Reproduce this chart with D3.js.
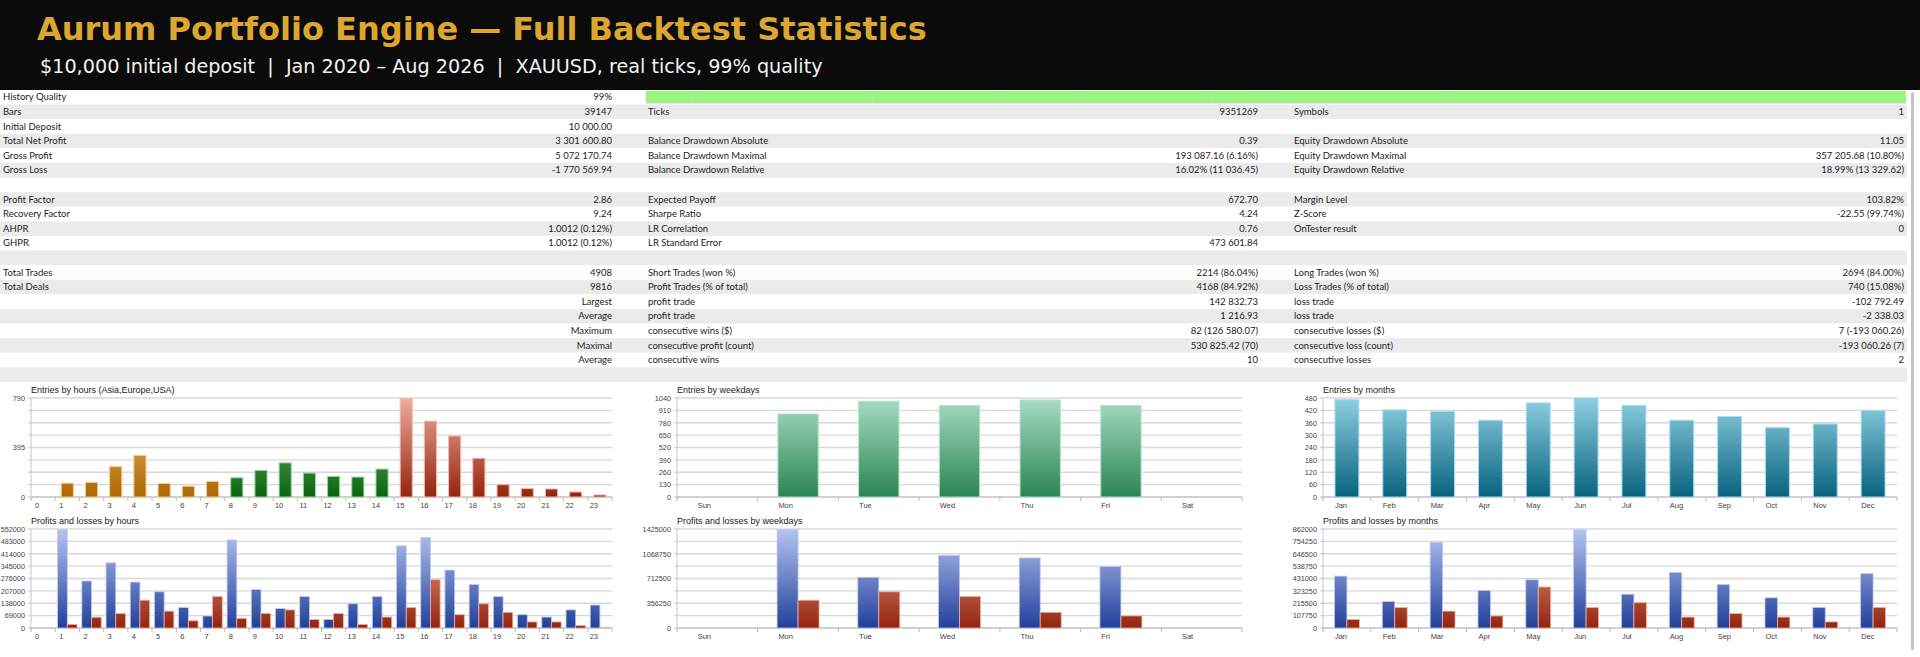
<!DOCTYPE html>
<html>
<head>
<meta charset="utf-8">
<script src="https://cdn.jsdelivr.net/npm/d3@7"></script>
<style>
  html, body { margin: 0; padding: 0; background: #fff; }
  svg { display: block; }
</style>
</head>
<body>
<svg id="report" width="1920" height="657"></svg>
<script>
// ---------- report text ----------
const titleText = 'Aurum Portfolio Engine \u2014 Full Backtest Statistics';
const subtitleText = '$10,000 initial deposit  |  Jan 2020 \u2013 Aug 2026  |  XAUUSD, real ticks, 99% quality';

const col1Labels = ['History Quality', 'Bars', 'Initial Deposit', 'Total Net Profit', 'Gross Profit', 'Gross Loss', '',
  'Profit Factor', 'Recovery Factor', 'AHPR', 'GHPR', '', 'Total Trades', 'Total Deals', '', '', '', '', '', ''];
const col1Values = ['99%', '39147', '10 000.00', '3 301 600.80', '5 072 170.74', '-1 770 569.94', '',
  '2.86', '9.24', '1.0012 (0.12%)', '1.0012 (0.12%)', '', '4908', '9816', 'Largest', 'Average', 'Maximum', 'Maximal', 'Average', ''];
const col2Labels = ['', 'Ticks', '', 'Balance Drawdown Absolute', 'Balance Drawdown Maximal', 'Balance Drawdown Relative', '',
  'Expected Payoff', 'Sharpe Ratio', 'LR Correlation', 'LR Standard Error', '', 'Short Trades (won %)', 'Profit Trades (% of total)',
  'profit trade', 'profit trade', 'consecutive wins ($)', 'consecutive profit (count)', 'consecutive wins', ''];
const col2Values = ['', '9351269', '', '0.39', '193 087.16 (6.16%)', '16.02% (11 036.45)', '',
  '672.70', '4.24', '0.76', '473 601.84', '', '2214 (86.04%)', '4168 (84.92%)',
  '142 832.73', '1 216.93', '82 (126 580.07)', '530 825.42 (70)', '10', ''];
const col3Labels = ['', 'Symbols', '', 'Equity Drawdown Absolute', 'Equity Drawdown Maximal', 'Equity Drawdown Relative', '',
  'Margin Level', 'Z-Score', 'OnTester result', '', '', 'Long Trades (won %)', 'Loss Trades (% of total)',
  'loss trade', 'loss trade', 'consecutive losses ($)', 'consecutive loss (count)', 'consecutive losses', ''];
const col3Values = ['', '1', '', '11.05', '357 205.68 (10.80%)', '18.99% (13 329.62)', '',
  '103.82%', '-22.55 (99.74%)', '0', '', '', '2694 (84.00%)', '740 (15.08%)',
  '-102 792.49', '-2 338.03', '7 (-193 060.26)', '-193 060.26 (7)', '2', ''];

// ---------- chart data ----------
const hours = d3.range(24).map(String);
const hourSessions = ['asia','asia','asia','asia','asia','asia','asia','asia',
  'europe','europe','europe','europe','europe','europe','europe',
  'usa','usa','usa','usa','usa','usa','usa','usa','usa'];
const hourEntries = [0, 110, 116, 242, 331, 108, 86, 124, 153, 212, 272, 191, 164, 159, 223, 785, 605, 487, 309, 99, 67, 64, 40, 16];
const hourProfit = [0, 548000, 262000, 363000, 256000, 202000, 114000, 67000, 491000, 215000, 108000, 175000, 47000, 135000,
  175000, 458000, 505000, 323000, 242000, 175000, 74000, 61000, 101000, 128000];
const hourLoss = [0, 20000, 60000, 81000, 155000, 94000, 40000, 175000, 54000, 81000, 101000, 47000, 81000, 20000,
  61000, 114000, 269000, 74000, 135000, 87000, 34000, 34000, 13000, 4000];

const weekdays = ['Sun', 'Mon', 'Tue', 'Wed', 'Thu', 'Fri', 'Sat'];
const weekdayEntries = [0, 872, 1006, 961, 1019, 961, 0];
const weekdayProfit = [0, 1420000, 730000, 1043000, 1008000, 886000, 0];
const weekdayLoss = [0, 400000, 521000, 452000, 226000, 174000, 0];

const months = ['Jan', 'Feb', 'Mar', 'Apr', 'May', 'Jun', 'Jul', 'Aug', 'Sep', 'Oct', 'Nov', 'Dec'];
const monthEntries = [472, 422, 415, 372, 456, 480, 444, 372, 390, 336, 354, 420];
const monthProfit = [452000, 231000, 746000, 326000, 420000, 855000, 294000, 484000, 378000, 263000, 179000, 473000];
const monthLoss = [74000, 179000, 147000, 105000, 357000, 179000, 221000, 95000, 126000, 95000, 53000, 179000];

const hourEntryTicks = [0, 395, 790];
const weekdayEntryTicks = [0, 130, 260, 390, 520, 650, 780, 910, 1040];
const monthEntryTicks = [0, 60, 120, 180, 240, 300, 360, 420, 480];
const hourPLTicks = [0, 69000, 138000, 207000, 276000, 345000, 414000, 483000, 552000];
const weekdayPLTicks = [0, 356250, 712500, 1068750, 1425000];
const monthPLTicks = [0, 107750, 215500, 323250, 431000, 538750, 646500, 754250, 862000];

// ---------- layout ----------
const W = 1920, H = 657;
const headerH = 90;
const rowH = 14.6, tableTop = 90, tableRight = 1907;
const chartFont = 'Liberation Sans, Arial, sans-serif';
const rowsY = {
  entries: { top: 398, bottom: 497, titleY: 393, labelY: 508 },
  pl:      { top: 529, bottom: 628, titleY: 524, labelY: 639 }
};
const colsX = [{ x0: 31, x1: 612 }, { x0: 677, x1: 1242 }, { x0: 1323, x1: 1897 }];

const svg = d3.select('#report');

// gradients (user space so short bars get the dark end)
const defs = svg.append('defs');
function gradient(id, row, top, bottom) {
  const lg = defs.append('linearGradient').attr('id', id)
    .attr('gradientUnits', 'userSpaceOnUse')
    .attr('x1', 0).attr('x2', 0).attr('y1', row.top).attr('y2', row.bottom);
  lg.append('stop').attr('offset', 0).attr('stop-color', top);
  lg.append('stop').attr('offset', 1).attr('stop-color', bottom);
}
gradient('g-asia', rowsY.entries, '#EEC274', '#AE6600');
gradient('g-europe', rowsY.entries, '#80C484', '#0A640E');
gradient('g-usa', rowsY.entries, '#EEAC9C', '#94240E');
gradient('g-week', rowsY.entries, '#A8DDC3', '#2A8452');
gradient('g-month', rowsY.entries, '#8ED0E2', '#08627F');
gradient('g-profit', rowsY.pl, '#B4C4F2', '#22409A');
gradient('g-loss', rowsY.pl, '#EEAC9C', '#94240E');
const strokes = { asia: '#F6CA85', europe: '#98D89A', usa: '#F3B8AA', week: '#B3E5CC', month: '#A5DCEC', profit: '#BCC8F2', loss: '#EDB0A2' };

// ---------- header ----------
svg.append('rect').attr('width', W).attr('height', H).attr('fill', '#fff');
svg.append('rect').attr('width', W).attr('height', headerH).attr('fill', '#0b0b0b');
svg.append('text').attr('x', 37).attr('y', 40)
  .attr('font-family', 'DejaVu Sans').attr('font-weight', 'bold').attr('font-size', 32)
  .attr('fill', '#DCA630').text(titleText);
svg.append('text').attr('x', 40).attr('y', 73)
  .attr('font-family', 'DejaVu Sans').attr('font-size', 19.2)
  .attr('fill', '#F2F2F2').style('white-space', 'pre').text(subtitleText);

// ---------- statistics table ----------
const rowIdx = d3.range(col1Labels.length);
svg.selectAll('rect.row').data(rowIdx).join('rect').attr('class', 'row')
  .attr('x', 0).attr('y', i => tableTop + i * rowH)
  .attr('width', tableRight).attr('height', rowH)
  .attr('fill', i => i % 2 ? '#EBEBEB' : '#FFFFFF');

// history quality bar
svg.append('rect').attr('x', 646).attr('y', tableTop + 0.8)
  .attr('width', 1260).attr('height', 11.6).attr('fill', '#98F57E');
svg.append('line').attr('x1', 646).attr('x2', 1906)
  .attr('y1', tableTop + 12.9).attr('y2', tableTop + 12.9)
  .attr('stroke', '#A9C7A0').attr('stroke-width', 1);
[693, 873, 1007, 1082, 1213, 1264, 1447].forEach(x => {
  svg.append('line').attr('x1', x).attr('x2', x)
    .attr('y1', tableTop + 0.8).attr('y2', tableTop + 12.4)
    .attr('stroke', '#B8E6AA').attr('stroke-width', 1);
});

const tableCols = [
  { texts: col1Labels, x: 3, anchor: 'start' },
  { texts: col1Values, x: 612, anchor: 'end' },
  { texts: col2Labels, x: 648, anchor: 'start' },
  { texts: col2Values, x: 1258, anchor: 'end' },
  { texts: col3Labels, x: 1294, anchor: 'start' },
  { texts: col3Values, x: 1904, anchor: 'end' }
];
tableCols.forEach(c => {
  svg.append('g').selectAll('text').data(c.texts).join('text')
    .attr('x', c.x).attr('y', (d, i) => tableTop + i * rowH + 10.3)
    .attr('text-anchor', c.anchor)
    .attr('font-family', 'Lato').attr('font-size', 9.5).attr('fill', '#1c1c1c')
    .text(d => d);
});

// scrollbar strip
svg.append('rect').attr('x', 1911).attr('y', 92).attr('width', 3).attr('height', 558)
  .attr('rx', 1.5).attr('fill', '#C4C4C4');

// ---------- charts ----------
function frame(title, cats, domainMax, ticks, row, col, labelShift, labelAnchor) {
  const x = d3.scaleBand().domain(cats).range([col.x0, col.x1]).paddingInner(0).paddingOuter(0);
  const y = d3.scaleLinear().domain([0, domainMax]).range([row.bottom, row.top]);
  const g = svg.append('g');

  g.append('text').attr('x', col.x0).attr('y', row.titleY)
    .attr('font-family', chartFont).attr('font-size', 9).attr('fill', '#222').text(title);

  const grid = d3.range(9).map(i => domainMax * i / 8);
  g.selectAll('line.grid').data(grid).join('line')
    .attr('x1', col.x0 - 3).attr('x2', col.x1)
    .attr('y1', d => y(d)).attr('y2', d => y(d))
    .attr('stroke', '#D8D8D8').attr('stroke-width', 1.3);

  g.append('line').attr('x1', col.x0).attr('x2', col.x0)
    .attr('y1', row.top).attr('y2', row.bottom + 3)
    .attr('stroke', '#C6C6C6');

  g.append('g').attr('transform', `translate(${col.x0},0)`)
    .call(d3.axisLeft(y).tickValues(ticks).tickSize(0).tickPadding(6).tickFormat(d3.format('d')))
    .attr('font-family', chartFont).attr('font-size', 7.3).attr('color', '#444')
    .call(a => a.select('.domain').remove());

  g.append('line').attr('x1', col.x0).attr('x2', col.x1)
    .attr('y1', row.bottom).attr('y2', row.bottom)
    .attr('stroke', '#BDBDBD').attr('stroke-width', 1.2);

  const bounds = cats.map(c => x(c)).concat([col.x1]);
  g.selectAll('line.xt').data(bounds).join('line')
    .attr('x1', d => d).attr('x2', d => d)
    .attr('y1', row.bottom).attr('y2', row.bottom + 4)
    .attr('stroke', '#BDBDBD');

  g.selectAll('text.xl').data(cats).join('text')
    .attr('x', c => x(c) + x.bandwidth() * labelShift).attr('y', row.labelY)
    .attr('text-anchor', labelAnchor)
    .attr('font-family', chartFont).attr('font-size', 7.5).attr('fill', '#444')
    .text(c => c);

  return { g, x, y };
}

function entriesChart(title, cats, values, fills, domainMax, ticks, col, labelShift, labelAnchor) {
  const { g, x, y } = frame(title, cats, domainMax, ticks, rowsY.entries, col, labelShift, labelAnchor);
  const bw = x.bandwidth() * 0.5;
  const data = cats.map((c, i) => ({ c, v: values[i], k: fills[i] })).filter(d => d.v > 0);
  g.selectAll('rect.bar').data(data).join('rect')
    .attr('x', d => x(d.c) + (x.bandwidth() - bw) / 2)
    .attr('y', d => y(d.v))
    .attr('width', bw)
    .attr('height', d => y(0) - y(d.v))
    .attr('fill', d => `url(#g-${d.k})`)
    .attr('stroke', d => strokes[d.k]).attr('stroke-width', 1);
}

function plChart(title, cats, profit, loss, domainMax, ticks, col, pairFrac, labelShift, labelAnchor) {
  const { g, x, y } = frame(title, cats, domainMax, ticks, rowsY.pl, col, labelShift, labelAnchor);
  const pw = x.bandwidth() * pairFrac;
  const data = [];
  cats.forEach((c, i) => {
    data.push({ c, v: profit[i], k: 'profit', off: 0 });
    data.push({ c, v: loss[i], k: 'loss', off: 1 });
  });
  g.selectAll('rect.bar').data(data.filter(d => d.v > 0)).join('rect')
    .attr('x', d => x(d.c) + (x.bandwidth() - pw) / 2 + d.off * pw / 2)
    .attr('y', d => y(d.v))
    .attr('width', pw / 2)
    .attr('height', d => y(0) - y(d.v))
    .attr('fill', d => `url(#g-${d.k})`)
    .attr('stroke', d => strokes[d.k]).attr('stroke-width', 0.8);
}

entriesChart('Entries by hours (Asia,Europe,USA)', hours, hourEntries, hourSessions, 790, hourEntryTicks, colsX[0], 0.25, 'middle');
entriesChart('Entries by weekdays', weekdays, weekdayEntries, weekdays.map(() => 'week'), 1040, weekdayEntryTicks, colsX[1], 0.256, 'start');
entriesChart('Entries by months', months, monthEntries, months.map(() => 'month'), 480, monthEntryTicks, colsX[2], 0.25, 'start');

plChart('Profits and losses by hours', hours, hourProfit, hourLoss, 552000, hourPLTicks, colsX[0], 0.8, 0.25, 'middle');
plChart('Profits and losses by weekdays', weekdays, weekdayProfit, weekdayLoss, 1425000, weekdayPLTicks, colsX[1], 0.52, 0.256, 'start');
plChart('Profits and losses by months', months, monthProfit, monthLoss, 862000, monthPLTicks, colsX[2], 0.52, 0.25, 'start');
</script>
</body>
</html>
